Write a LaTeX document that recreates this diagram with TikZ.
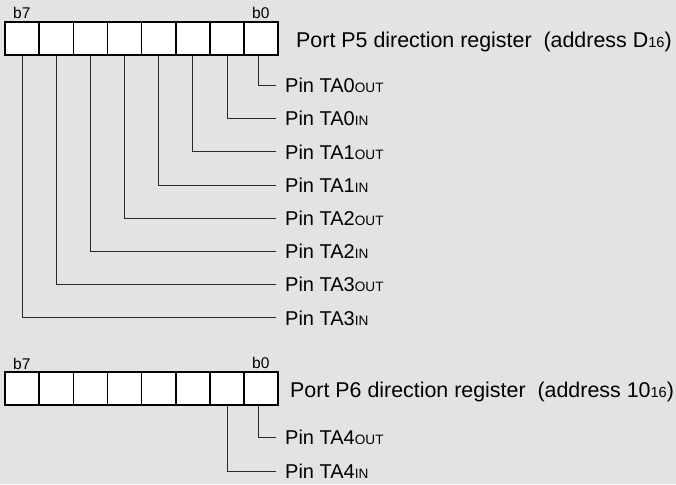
\documentclass[tikz,border=0pt]{standalone}
\usepackage{fontspec}
\setmainfont{Liberation Sans}
\definecolor{bgc}{RGB}{227,227,227}
\definecolor{wirec}{RGB}{40,40,40}
\newcommand\pinsz{\fontsize{20}{23}\selectfont}
\newcommand\pinsub[1]{{\fontsize{13.6}{15}\selectfont #1}}
\newcommand\titsz{\fontsize{21.4}{25}\selectfont}
\newcommand\titsub[1]{{\fontsize{14.6}{16}\selectfont #1}}
\tikzset{
  cell/.style={draw=black, fill=white, line width=1.6pt, minimum width=34.15pt, minimum height=33pt, inner sep=0pt},
  pinlabel/.style={anchor=west, inner xsep=9pt, inner ysep=0pt, font=\pinsz},
  bitlabel/.style={anchor=base west, inner sep=0pt, font=\fontsize{15.5}{18}\selectfont},
  title/.style={anchor=base west, inner sep=0pt, font=\titsz},
  wire/.style={draw=wirec, line width=0.9pt}
}
\begin{document}
\begin{tikzpicture}[x=1pt,y=-1pt]
\useasboundingbox[fill=bgc] (0,0) rectangle (676,484);
% Port P5 register
\foreach \i in {0,...,7}{
  \node[cell] (a\i) at ({5+34.15*\i+17.075},38.5) {};
}
\node[bitlabel] (a7lab) at (13,19) {b7};
\node[bitlabel] (a0lab) at (252,18.5) {b0};
\node[title] (t5) at (296,48) {Port P5 direction register\ \ (address D\titsub{16})};
% pin labels P5
\node[pinlabel] (p0) at (276,85.5) {Pin TA0\pinsub{OUT}};
\node[pinlabel] (p1) at (276,118.7) {Pin TA0\pinsub{IN}};
\node[pinlabel] (p2) at (276,151.9) {Pin TA1\pinsub{OUT}};
\node[pinlabel] (p3) at (276,185.1) {Pin TA1\pinsub{IN}};
\node[pinlabel] (p4) at (276,218.3) {Pin TA2\pinsub{OUT}};
\node[pinlabel] (p5) at (276,251.5) {Pin TA2\pinsub{IN}};
\node[pinlabel] (p6) at (276,284.7) {Pin TA3\pinsub{OUT}};
\node[pinlabel] (p7) at (276,317.9) {Pin TA3\pinsub{IN}};
\draw[wire] ([xshift=-2.8pt]a7.south) |- (p0.west);
\draw[wire] (a6.south) |- (p1.west);
\draw[wire] (a5.south) |- (p2.west);
\draw[wire] (a4.south) |- (p3.west);
\draw[wire] (a3.south) |- (p4.west);
\draw[wire] (a2.south) |- (p5.west);
\draw[wire] (a1.south) |- (p6.west);
\draw[wire] (a0.south) |- (p7.west);
% Port P6 register
\foreach \i in {0,...,7}{
  \node[cell] (b\i) at ({5+34.15*\i+17.075},388.7) {};
}
\node[bitlabel] (b7lab) at (13,369) {b7};
\node[bitlabel] (b0lab) at (252,368.5) {b0};
\node[title] (t6) at (290,397) {Port P6 direction register\ \ (address 10\titsub{16})};
\node[pinlabel] (q0) at (276,437.7) {Pin TA4\pinsub{OUT}};
\node[pinlabel] (q1) at (276,471) {Pin TA4\pinsub{IN}};
\draw[wire] ([xshift=-2.8pt]b7.south) |- (q0.west);
\draw[wire] (b6.south) |- (q1.west);
\end{tikzpicture}
\end{document}
